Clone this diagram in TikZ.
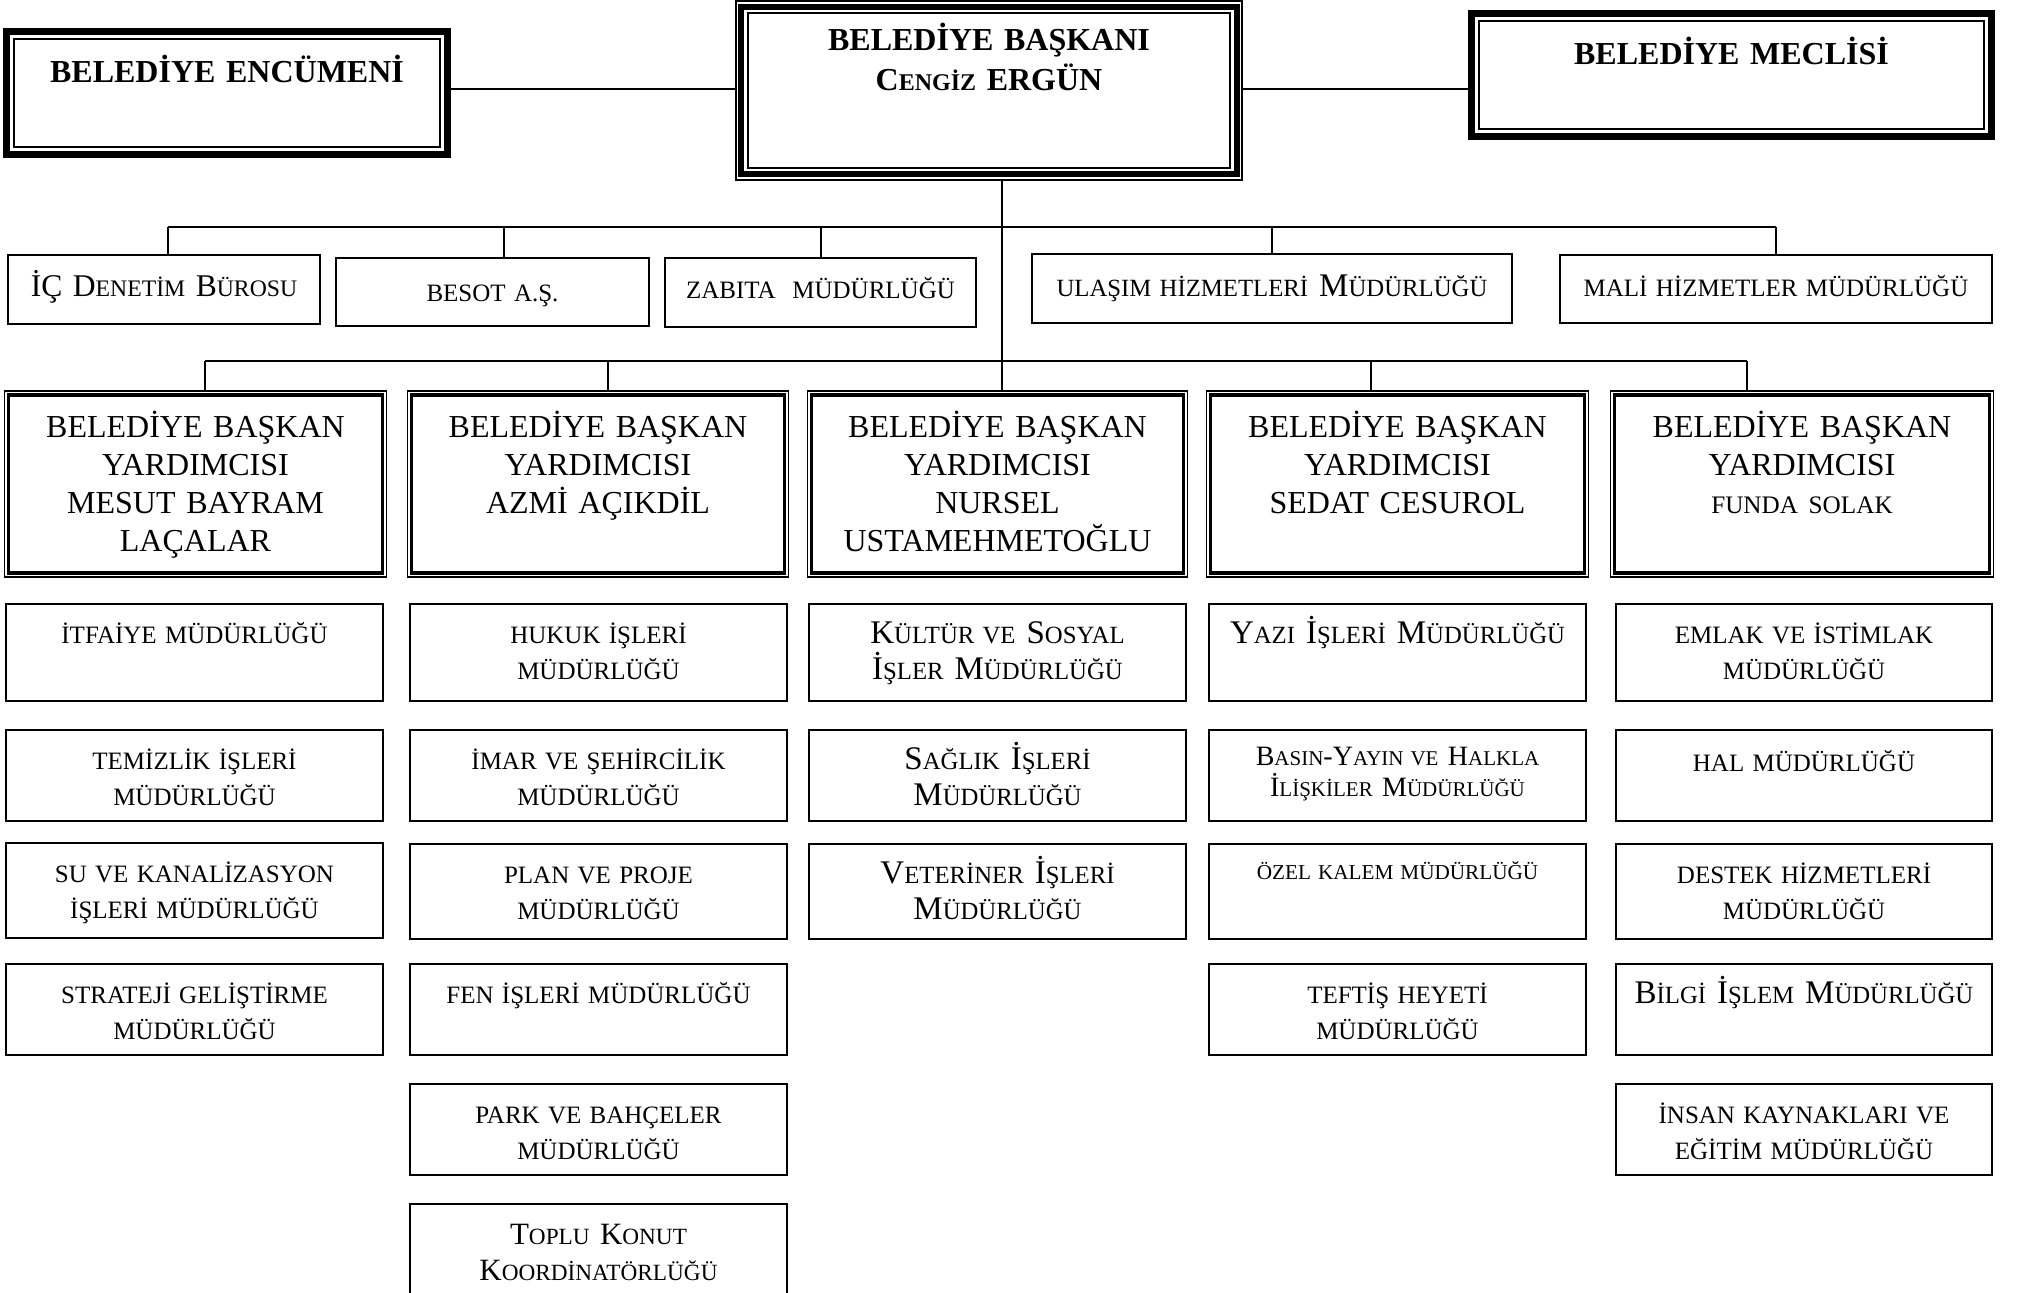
\documentclass[tikz,border=0pt]{standalone}
\usepackage{fontspec}
\setmainfont{Liberation Serif}
\usepackage{graphicx}
\usetikzlibrary{calc}
\newcommand\smc[2][0.75]{\scalebox{#1}{#2}}
% box macro: name, x1, y1, x2, y2 (px), first-baseline offset (px), style, text
\newcommand\bx[8]{%
  \pgfmathsetmacro\bw{(#4-#2)*0.5}%
  \pgfmathsetmacro\bh{(#5-#3)*0.5}%
  \pgfmathsetmacro\bt{#6*0.5}%
  \pgfmathsetmacro\bd{\bh-\bt}%
  \pgfmathsetmacro\bc{(#2+#4)/2}%
  \node[inner sep=0pt, anchor=north, text width=\bw pt, align=center,
        text height=\bt pt, text depth=\bd pt, #7] (#1) at (\bc,#3) {#8};}
% frame line inside a node: name, inset (px), width
\newcommand\frm[3]{\draw[line width=#3]
  ([xshift=#2*0.5pt,yshift=-#2*0.5pt]#1.north west) rectangle
  ([xshift=-#2*0.5pt,yshift=#2*0.5pt]#1.south east);}
\tikzset{
  ttl/.style={font=\bfseries\fontsize{16}{20}\selectfont},
  vpf/.style={font=\fontsize{16}{19}\selectfont},
  dirf/.style={font=\fontsize{12.5}{18}\selectfont},
  scf/.style={font=\fontsize{16.5}{18}\selectfont},
  icf/.style={font=\fontsize{15.8}{18}\selectfont},
  basf/.style={font=\fontsize{14}{15.5}\selectfont},
  ozf/.style={font=\fontsize{10.6}{18}\selectfont},
  topf/.style={font=\fontsize{15.5}{18}\selectfont},
  plain/.style={draw, line width=0.9pt},
  conn/.style={line width=1pt},
}
\begin{document}
\begin{tikzpicture}[x=0.5pt,y=-0.5pt]
\useasboundingbox (0,0) rectangle (2017,1292);
\clip (0,0) rectangle (2017,1292);

% ---- top row
\bx{enc}{3}{28}{451}{157}{54}{ttl}{BELEDİYE ENCÜMENİ}
\bx{bas}{735}{0}{1243}{180}{50}{ttl}{BELEDİYE BAŞKANI\\C\smc{ENGİZ} ERGÜN}
\bx{mec}{1468}{10}{1995}{139}{54}{ttl}{BELEDİYE MECLİSİ}
\frm{enc}{3.5}{3.5pt}\frm{enc}{11}{1pt}
\frm{mec}{3.5}{3.5pt}\frm{mec}{11}{1pt}
\frm{bas}{1}{1pt}\frm{bas}{6.5}{3pt}\frm{bas}{13}{1pt}

% ---- second row
\bx{icd}{8}{254}{320}{323}{42}{plain,icf}{İÇ D\smc{ENETİM} B\smc{ÜROSU}}
\bx{bes}{336}{257}{649}{325}{44}{plain,dirf}{BESOT A.Ş.}
\bx{zab}{665}{257}{976}{326}{41}{plain,dirf}{ZABITA\ \ MÜDÜRLÜĞÜ}
\bx{ula}{1032}{253}{1512}{322}{43}{plain,scf}{\smc{ULAŞIM HİZMETLERİ}\ M\smc{ÜDÜRLÜĞÜ}}
\bx{mal}{1560}{254}{1992}{322}{42}{plain,dirf}{MALİ HİZMETLER MÜDÜRLÜĞÜ}

% ---- vice mayors
\bx{vp1}{4}{390}{387}{577}{47}{vpf}{BELEDİYE BAŞKAN\\YARDIMCISI\\MESUT BAYRAM\\LAÇALAR}
\bx{vp2}{407}{390}{789}{577}{47}{vpf}{BELEDİYE BAŞKAN\\YARDIMCISI\\AZMİ AÇIKDİL}
\bx{vp3}{807}{390}{1188}{577}{47}{vpf}{BELEDİYE BAŞKAN\\YARDIMCISI\\NURSEL\\USTAMEHMETOĞLU}
\bx{vp4}{1206}{390}{1589}{577}{47}{vpf}{BELEDİYE BAŞKAN\\YARDIMCISI\\SEDAT CESUROL}
\bx{vp5}{1610}{390}{1994}{577}{47}{vpf}{BELEDİYE BAŞKAN\\YARDIMCISI\\{\fontsize{12.6}{19}\selectfont FUNDA SOLAK}}
\foreach \v in {vp1,vp2,vp3,vp4,vp5}{\frm{\v}{0.75}{0.75pt}\frm{\v}{5}{1.75pt}}

% ---- column 1
\bx{a1}{6}{603}{383}{700}{40}{plain,dirf}{İTFAİYE MÜDÜRLÜĞÜ}
\bx{a2}{6}{729}{383}{820}{40}{plain,dirf}{TEMİZLİK İŞLERİ\\MÜDÜRLÜĞÜ}
\bx{a3}{6}{842}{383}{937}{40}{plain,dirf}{SU VE KANALİZASYON\\İŞLERİ MÜDÜRLÜĞÜ}
\bx{a4}{6}{963}{383}{1054}{40}{plain,dirf}{STRATEJİ GELİŞTİRME\\MÜDÜRLÜĞÜ}
% ---- column 2
\bx{b1}{410}{603}{787}{700}{40}{plain,dirf}{HUKUK İŞLERİ\\MÜDÜRLÜĞÜ}
\bx{b2}{410}{729}{787}{820}{40}{plain,dirf}{İMAR VE ŞEHİRCİLİK\\MÜDÜRLÜĞÜ}
\bx{b3}{410}{843}{787}{938}{40}{plain,dirf}{PLAN VE PROJE\\MÜDÜRLÜĞÜ}
\bx{b4}{410}{963}{787}{1054}{40}{plain,dirf}{FEN İŞLERİ MÜDÜRLÜĞÜ}
\bx{b5}{410}{1083}{787}{1174}{40}{plain,dirf}{PARK VE BAHÇELER\\MÜDÜRLÜĞÜ}
\bx{b6}{410}{1203}{787}{1310}{41}{plain,topf}{T\smc{OPLU} K\smc{ONUT}\\K\smc{OORDİNATÖRLÜĞÜ}}
% ---- column 3
\bx{c1}{809}{603}{1186}{700}{40}{plain,scf}{K\smc{ÜLTÜR VE} S\smc{OSYAL}\\İ\smc{ŞLER} M\smc{ÜDÜRLÜĞÜ}}
\bx{c2}{809}{729}{1186}{820}{40}{plain,scf}{S\smc{AĞLIK} İ\smc{ŞLERİ}\\M\smc{ÜDÜRLÜĞÜ}}
\bx{c3}{809}{843}{1186}{938}{40}{plain,scf}{V\smc{ETERİNER} İ\smc{ŞLERİ}\\M\smc{ÜDÜRLÜĞÜ}}
% ---- column 4
\bx{d1}{1209}{603}{1586}{700}{40}{plain,scf}{Y\smc{AZI} İ\smc{ŞLERİ} M\smc{ÜDÜRLÜĞÜ}}
\bx{d2}{1209}{729}{1586}{820}{36}{plain,basf}{B\smc{ASIN}-Y\smc{AYIN VE} H\smc{ALKLA}\\İ\smc{LİŞKİLER} M\smc{ÜDÜRLÜĞÜ}}
\bx{d3}{1209}{843}{1586}{938}{36}{plain,ozf}{ÖZEL KALEM MÜDÜRLÜĞÜ}
\bx{d4}{1209}{963}{1586}{1054}{40}{plain,dirf}{TEFTİŞ HEYETİ\\MÜDÜRLÜĞÜ}
% ---- column 5
\bx{e1}{1616}{603}{1992}{700}{40}{plain,dirf}{EMLAK VE İSTİMLAK\\MÜDÜRLÜĞÜ}
\bx{e2}{1616}{729}{1992}{820}{42}{plain,dirf}{HAL MÜDÜRLÜĞÜ}
\bx{e3}{1616}{843}{1992}{938}{40}{plain,dirf}{DESTEK HİZMETLERİ\\MÜDÜRLÜĞÜ}
\bx{e4}{1616}{963}{1992}{1054}{40}{plain,scf}{B\smc{İLGİ} İ\smc{ŞLEM} M\smc{ÜDÜRLÜĞÜ}}
\bx{e5}{1616}{1083}{1992}{1174}{40}{plain,dirf}{İNSAN KAYNAKLARI VE\\EĞİTİM MÜDÜRLÜĞÜ}

% ---- connectors
\coordinate (hl) at (0,89);
\draw[conn] (enc.east |- hl) -- (bas.west |- hl);
\draw[conn] (bas.east |- hl) -- (mec.west |- hl);
\coordinate (tr) at (1002,227);
\draw[conn] (bas.south -| tr) -- (vp3.north -| tr);
\coordinate (k1) at (168,227);
\coordinate (k2) at (504,227);
\coordinate (k3) at (821,227);
\coordinate (k4) at (1272,227);
\coordinate (k5) at (1776,227);
\draw[conn] (k1) -- (k5);
\draw[conn] (k1) -- (k1 |- icd.north);
\draw[conn] (k2) -- (k2 |- bes.north);
\draw[conn] (k3) -- (k3 |- zab.north);
\draw[conn] (k4) -- (k4 |- ula.north);
\draw[conn] (k5) -- (k5 |- mal.north);
\coordinate (r1) at (205,361);
\coordinate (r2) at (608,361);
\coordinate (r4) at (1371,361);
\coordinate (r5) at (1747,361);
\draw[conn] (r1) -- (r5);
\draw[conn] (r1) -- (r1 |- vp1.north);
\draw[conn] (r2) -- (r2 |- vp2.north);
\draw[conn] (r4) -- (r4 |- vp4.north);
\draw[conn] (r5) -- (r5 |- vp5.north);
\end{tikzpicture}
\end{document}
